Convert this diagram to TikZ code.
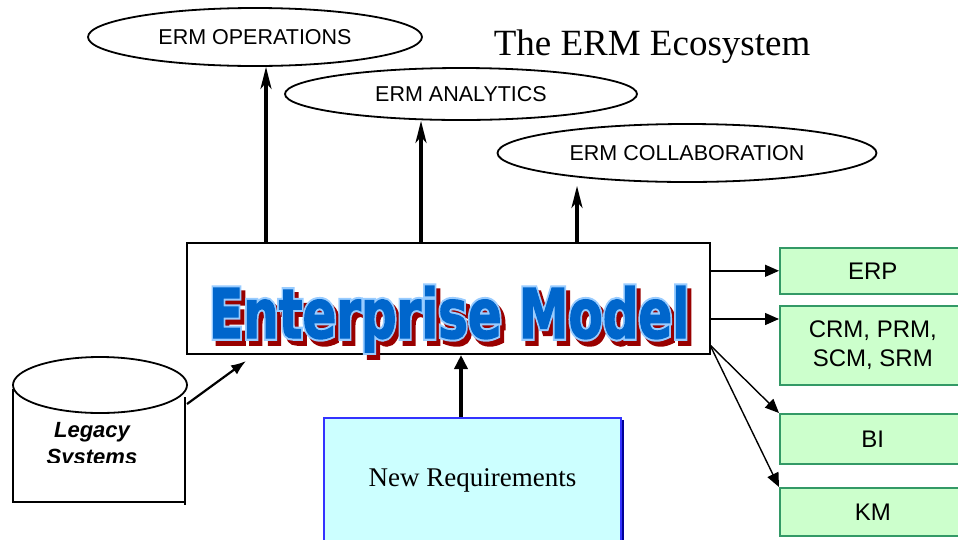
\documentclass[tikz,border=0pt]{standalone}
\usepackage{fontspec}
\setmainfont{Liberation Sans}
\newfontfamily\serifont{Liberation Serif}
\newfontfamily\emout{DejaVu Sans Condensed}[BoldFeatures={FakeBold=8}]
\newfontfamily\emin{DejaVu Sans Condensed}[BoldFeatures={FakeBold=2}]
\usetikzlibrary{shapes.geometric,arrows.meta,calc}
\definecolor{emblue}{HTML}{0066CC}
\definecolor{emlight}{HTML}{99CCFF}
\definecolor{emred}{HTML}{990000}
\definecolor{nrfill}{HTML}{CCFFFF}
\definecolor{nrborder}{HTML}{3333FF}
\definecolor{nrshadow}{HTML}{000099}
\definecolor{gfill}{HTML}{CCFFCC}
\definecolor{gborder}{HTML}{339966}
\newcommand\emouter[1]{\resizebox{480pt}{52pt}{\color{#1}\emout\bfseries Enterprise Model}}
\newcommand\eminner{\resizebox{480pt}{52pt}{\color{emblue}\emin\bfseries Enterprise Model}}
\begin{document}
\begin{tikzpicture}[x=1pt,y=-1pt,
  ell/.style={ellipse, draw, line width=1.8pt, inner sep=0, font=\fontsize{21.5}{25}\selectfont},
  upar/.style={line width=3.2pt, -{Stealth[length=22pt,width=11pt,inset=6pt]}},
  thinar/.style={line width=1.4pt, -{Triangle[length=14pt,width=12pt]}},
  legar/.style={line width=2.2pt, -{Latex[length=15pt,width=11pt]}},
  nrar/.style={line width=3.5pt, -{Triangle[length=14pt,width=13pt]}},
  gbox/.style={draw=gborder, fill=gfill, line width=1.6pt, minimum width=186pt, anchor=north west, inner sep=0, align=center, font=\fontsize{24}{29}\selectfont},
  legtext/.style={font=\bfseries\itshape\fontsize{22}{26}\selectfont, anchor=base, inner sep=0},
  emcopy/.style={inner sep=0, anchor=base west}]
\useasboundingbox (0,0) rectangle (958,539);
\clip (0,0) rectangle (958,539);
\fill[white] (0,0) rectangle (958,539);

% ellipses
\node[ell, minimum width=334pt, minimum height=58pt] (ops) at (255,37) {ERM OPERATIONS};
\node[ell, minimum width=352pt, minimum height=52pt] (ana) at (461,94) {ERM ANALYTICS};
\node[ell, minimum width=379pt, minimum height=58pt] (col) at (687,153) {ERM COLLABORATION};

% title
\node[font=\serifont\fontsize{37}{40}\selectfont, anchor=base, inner sep=0] (title) at (652,55) {The ERM Ecosystem};

% enterprise model box
\node[draw, line width=2pt, minimum width=523pt, minimum height=111pt, inner sep=0, anchor=north west] (em) at (186,242) {};
\node[emcopy] (emshadow) at (213,343) {\emouter{emred}};
\node[emcopy] (emoutline) at (209,338) {\emouter{emlight}};
\node[emcopy] (emtxt) at (209,338) {\eminner};

% up arrows
\draw[upar] (266,0 |- em.north) -- (266,0 |- ops.south);
\draw[upar] (421,0 |- em.north) -- (421,0 |- ana.south);
\draw[upar, shorten >=3pt] (577,0 |- em.north) -- (577,0 |- col.south);

% legacy systems cylinder
\draw[line width=1.8pt] (13,389) -- (13,502) -- (185,502);
\draw[line width=1.8pt] (185,397) -- (185,505);
\draw[line width=1.8pt, fill=white] (100,385) ellipse [x radius=87pt, y radius=28pt];
\begin{scope}
\clip (0,0) rectangle (958,462);
\node[legtext] (leg1) at (92,437) {Legacy};
\node[legtext] (leg2) at (92,464) {Systems};
\end{scope}
\coordinate (legout) at (187,404);
\coordinate (legin) at (246,361);
\draw[legar] (legout) -- (legin);

% new requirements
\fill[nrshadow] (326,420) rectangle (624,545);
\node[draw=nrborder, fill=nrfill, line width=2pt, anchor=north west, minimum width=297pt, minimum height=124pt, inner sep=0, font=\serifont\fontsize{27}{30}\selectfont] (nr) at (323,417) {New Requirements};
\draw[nrar] (461,0 |- nr.north) -- (461,0 |- em.south);

% green boxes
\node[gbox, minimum height=46pt] (erp) at (779,247) {ERP};
\node[gbox, minimum height=79pt] (crm) at (779,305) {CRM, PRM,\\SCM, SRM};
\node[gbox, minimum height=50pt] (bi) at (779,413) {BI};
\node[gbox, minimum height=48pt] (km) at (779,487) {KM};

\draw[thinar] (em.east |- erp.west) -- (erp.west);
\draw[thinar] (em.east |- 0,319) -- (crm.west |- 0,319);
\coordinate (dstart) at (710,345);
\draw[thinar] (dstart) -- (bi.north west);
\draw[thinar] (dstart) -- (km.north west);
\end{tikzpicture}
\end{document}
